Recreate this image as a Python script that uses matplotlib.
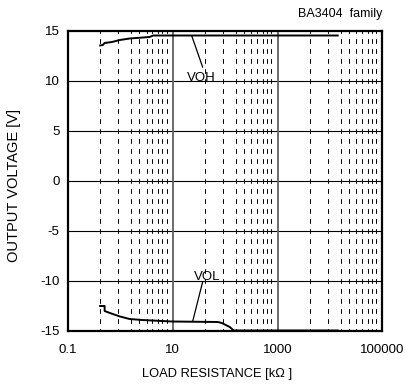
import numpy as np
import matplotlib
matplotlib.use("Agg")
import matplotlib.pyplot as plt

plt.rcParams['font.family'] = ['Liberation Sans', 'DejaVu Sans']
plt.rcParams['lines.scale_dashes'] = False
plt.rcParams['axes.unicode_minus'] = False

# data
voh_r = [0.41, 0.46, 0.5, 0.69, 0.98, 1.5, 3.6, 4.2, 14000]
voh_v = [13.5, 13.55, 13.75, 13.85, 14.05, 14.2, 14.35, 14.5, 14.5]
vol_r = [0.41, 0.5, 0.5, 0.63, 0.98, 1.5, 2.6, 9.6, 72, 86, 122, 145, 14000]
vol_v = [-12.55, -12.55, -13.05, -13.25, -13.6, -13.85, -13.95, -14.1, -14.15, -14.25, -14.65, -15.0, -15.0]

x_ticks = [0.1, 10, 1000, 100000]
x_labels = ['0.1', '10', '1000', '100000']
y_ticks = [-15, -10, -5, 0, 5, 10, 15]
# minor dashed lines: position inside each labelled interval (fraction)
minor_frac = [0.31, 0.48, 0.60, 0.68, 0.75, 0.80, 0.86, 0.90, 0.94]

fig = plt.figure(figsize=(4.06, 3.87), dpi=100)
ax = fig.add_axes([68 / 406, 56.5 / 387, 314.5 / 406, 300 / 387])
ax.set_xscale('log')
ax.set_xlim(0.1, 100000)
ax.set_ylim(-15, 15)

# grid
for y in [-10, -5, 0, 5, 10]:
    ax.axhline(y, color='black', lw=0.8, zorder=1)
for x in [10, 1000]:
    ax.axvline(x, color='#606060', lw=1.3, zorder=1)
for lo in x_ticks[:-1]:
    for f in minor_frac:
        ax.axvline(lo * 100 ** f, color='black', lw=0.7,
                   linestyle=(1.7, (3.4, 3.8)), zorder=1)

ax.plot(voh_r, voh_v, color='black', lw=1.4, zorder=3)
ax.plot(vol_r, vol_v, color='black', lw=1.4, zorder=3)

# annotations
ax.text(35.5, 9.95, 'VOH', ha='center', va='baseline', fontsize=9.5, zorder=4)
ax.plot([23, 37], [14.45, 11.35], color='black', lw=0.9, zorder=4)
ax.text(46, -9.9, 'VOL', ha='center', va='baseline', fontsize=9.5, zorder=4)
ax.plot([37, 24], [-10.15, -14.05], color='black', lw=0.9, zorder=4)

ax.set_xticks(x_ticks)
ax.set_xticklabels(x_labels)
ax.xaxis.set_minor_locator(matplotlib.ticker.NullLocator())
ax.set_yticks(y_ticks)
ax.tick_params(axis='x', length=0, pad=10, labelsize=9.5)
ax.tick_params(axis='y', length=0, pad=6, labelsize=9.5)

for s in ax.spines.values():
    s.set_linewidth(1.6)

ax.set_xlabel('LOAD RESISTANCE [k\u03a9 ]', fontsize=9.3)
ax.xaxis.set_label_coords(0.474, -0.125)
ax.set_ylabel('OUTPUT VOLTAGE [V]', fontsize=10.5)
ax.yaxis.set_label_coords(-0.149, 0.485)

fig.text(382 / 406, 1 - 14 / 387, 'BA3404  family', ha='right', va='center', fontsize=9)

fig.savefig('out.png', dpi=100)
